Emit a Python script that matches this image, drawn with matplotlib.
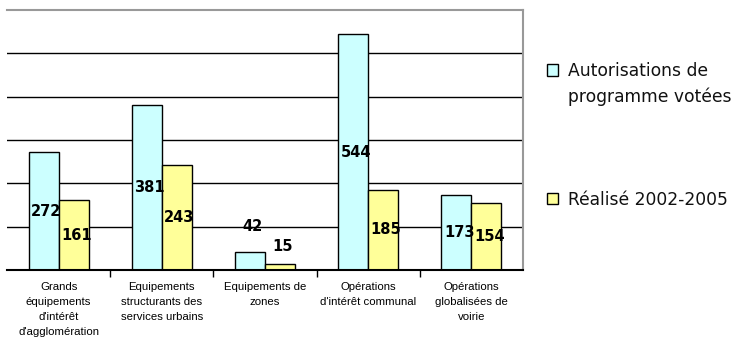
import matplotlib
matplotlib.use("Agg")
import matplotlib.pyplot as plt
from matplotlib.patches import Rectangle
import numpy as np

categories = [
    "Grands\néquipements\nd'intérêt\nd'agglomération",
    "Equipements\nstructurants des\nservices urbains",
    "Equipements de\nzones",
    "Opérations\nd'intérêt communal",
    "Opérations\nglobalisées de\nvoirie",
]
autorisations = [272, 381, 42, 544, 173]
realise = [161, 243, 15, 185, 154]
series_names = [["Autorisations de", "programme votées"], ["Réalisé 2002-2005"]]

col_auto = "#CCFFFF"
col_real = "#FFFF99"

W, H = 747, 342
fig = plt.figure(figsize=(W / 100, H / 100), dpi=100)
ax = fig.add_axes([7 / W, 1 - 270 / H, 516 / W, 260 / H])

x = np.arange(len(categories))
w = 0.29
b1 = ax.bar(x - w / 2, autorisations, w, color=col_auto, edgecolor="black", linewidth=1.0, zorder=3)
b2 = ax.bar(x + w / 2, realise, w, color=col_real, edgecolor="black", linewidth=1.0, zorder=3)

ax.set_ylim(0, 600)
ax.set_xlim(-0.5, len(categories) - 0.5)
ax.set_yticks(np.arange(100, 600, 100))
ax.yaxis.grid(True, color="black", linewidth=1.0, zorder=0)
ax.tick_params(axis="y", length=0, labelleft=False)

# category labels centred, tick marks at category boundaries
ax.set_xticks(x)
ax.set_xticklabels(categories, fontsize=8.2, family="Liberation Sans", linespacing=1.62,
                   verticalalignment="top")
ax.tick_params(axis="x", which="major", length=0, pad=9)
ax.set_xticks(np.arange(0.5, len(categories) - 0.5, 1), minor=True)
ax.tick_params(axis="x", which="minor", length=5, width=1.0, direction="out")

for s in ["top", "right"]:
    ax.spines[s].set_color("#999999")
    ax.spines[s].set_linewidth(1.5)
ax.spines["left"].set_visible(False)
ax.spines["bottom"].set_linewidth(1.5)
ax.spines["bottom"].set_zorder(4)

# value labels: centred inside the bar, or above it when the bar is too short
outside_offset = {42: 18, 15: 12}
for bars, vals in ((b1, autorisations), (b2, realise)):
    for rect, v in zip(bars, vals):
        cx = rect.get_x() + rect.get_width() / 2
        if v in outside_offset:
            xy, dy = (cx, v), outside_offset[v]
        else:
            xy, dy = (cx, v / 2), 0
        ax.annotate(str(v), xy, xytext=(2, dy), textcoords="offset points",
                    ha="center", va="center", fontsize=10.5, fontweight="bold",
                    family="DejaVu Sans", zorder=5)

# legend: square swatch aligned with the first line of each entry
swatch = 11
entries = [(col_auto, 70, [76, 102]), (col_real, 198, [205])]
for (color, sq_cy, baselines), lines in zip(entries, series_names):
    fig.patches.append(Rectangle((547 / W, 1 - (sq_cy + swatch / 2) / H), swatch / W, swatch / H,
                                 transform=fig.transFigure, facecolor=color,
                                 edgecolor="black", linewidth=1.0))
    for line, yb in zip(lines, baselines):
        fig.text(568 / W, 1 - yb / H, line, fontsize=12.3, family="DejaVu Sans",
                 ha="left", va="baseline", color="#111111")

fig.savefig("out.png", dpi=100)
